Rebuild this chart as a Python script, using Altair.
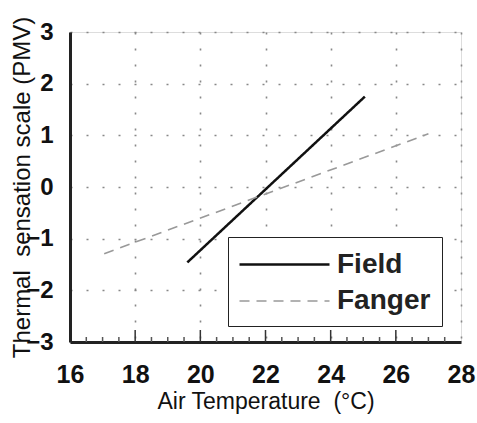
import altair as alt
import pandas as pd

# ---- data ----
series = ["Field", "Field", "Fanger", "Fanger"]
temperature = [19.6, 25.05, 17.05, 27.0]
pmv = [-1.46, 1.75, -1.29, 1.03]

x_ticks = [16, 18, 20, 22, 24, 26, 28]
y_ticks = [-3, -2, -1, 0, 1, 2, 3]
major_marks = [18, 20, 22, 24, 26]
minor_marks = [16.5, 17, 17.5, 18.5, 19, 19.5, 20.5, 21, 21.5, 22.5, 23, 23.5,
               24.5, 25, 25.5, 26.5, 27, 27.5]

W, H = 391, 310
FONT = "Liberation Sans"

lines_df = pd.DataFrame({"series": series, "temp": temperature, "pmv": pmv})
major_df = pd.DataFrame({"t": major_marks, "y": [-3] * len(major_marks)})
minor_df = pd.DataFrame({"t": minor_marks, "y": [-3] * len(minor_marks)})

xscale = alt.Scale(domain=[16, 28], nice=False, zero=False)
yscale = alt.Scale(domain=[-3, 3], nice=False, zero=False)

x_axis = alt.Axis(
    values=x_ticks, title="Air Temperature\u00a0\u00a0(°C)", ticks=False,
    labelFontSize=25, labelFontWeight="bold", labelFont=FONT, labelColor="#111",
    labelPadding=20, labelFlush=False,
    titleFont=FONT, titleFontSize=23, titleFontWeight="normal", titleColor="#111",
    titleY=66, titleBaseline="alphabetic",
    grid=True, gridColor="#888", gridDash=[2, 14], gridWidth=1.6,
    domain=True, domainColor="#222", domainWidth=3,
)
y_axis = alt.Axis(
    values=y_ticks, title="Thermal\u00a0\u00a0sensation scale (PMV)", ticks=False,
    labelFontSize=24, labelFontWeight="bold", labelFont=FONT, labelColor="#111",
    labelPadding=17,
    titleFont=FONT, titleFontSize=24, titleFontWeight="normal", titleColor="#111",
    titleX=-41, titleY=H / 2, titleBaseline="alphabetic", titleAngle=-90,
    grid=True, gridColor="#888", gridDash=[2, 14], gridWidth=1.6,
    domain=True, domainColor="#222", domainWidth=3,
)

legend = alt.Legend(
    title=None, orient="none", legendX=158, legendY=205,
    symbolType="M-3,0H3", symbolSize=900, symbolStrokeWidth=2,
    symbolOffset=29, labelOffset=36,
    labelFont=FONT, labelFontSize=28, labelFontWeight="bold", labelColor="#222",
    padding=11, rowPadding=6,
    strokeColor="#222", fillColor="white",
)

lines = alt.Chart(lines_df).mark_line().encode(
    x=alt.X("temp:Q", scale=xscale, axis=x_axis),
    y=alt.Y("pmv:Q", scale=yscale, axis=y_axis),
    color=alt.Color("series:N", scale=alt.Scale(domain=["Field", "Fanger"], range=["#111", "#999"]), legend=legend),
    strokeDash=alt.StrokeDash("series:N", scale=alt.Scale(domain=["Field", "Fanger"], range=[[1, 0], [10, 7]]), legend=legend),
    strokeWidth=alt.StrokeWidth("series:N", scale=alt.Scale(domain=["Field", "Fanger"], range=[2.5, 1.6]), legend=None),
    detail="series:N",
)

major = alt.Chart(major_df).mark_rule(color="#333", strokeWidth=1.5).encode(
    x=alt.X("t:Q", scale=xscale), y=alt.Y("y:Q", scale=yscale), y2=alt.value(H - 12)
)
minor = alt.Chart(minor_df).mark_rule(color="#555", strokeWidth=1.5).encode(
    x=alt.X("t:Q", scale=xscale), y=alt.Y("y:Q", scale=yscale), y2=alt.value(H - 5)
)

chart = alt.layer(major, minor, lines).properties(
    width=W, height=H,
    autosize=alt.AutoSizeParams(type="none"),
    padding={"left": 70, "top": 32, "right": 16, "bottom": 81},
).configure_view(stroke="#222", strokeWidth=2).configure(background="white")

chart.save("out.html", embed_options={"renderer": "svg", "actions": False})
